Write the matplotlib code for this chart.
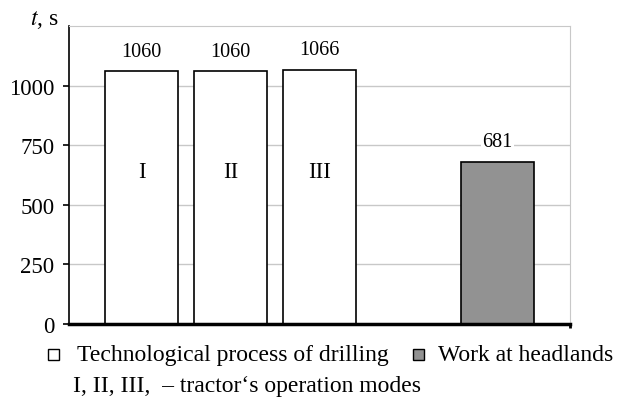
import matplotlib.pyplot as plt
from matplotlib.patches import Rectangle

plt.rcParams["font.family"] = ["Liberation Serif", "DejaVu Serif"]

positions = [0, 1, 2, 4]
values = [1060, 1060, 1066, 681]
colors = ["white", "white", "white", "#929292"]
modes = ["I", "II", "III"]
yticks = [0, 250, 500, 750, 1000]


def main() -> None:
    fig = plt.figure(figsize=(6.18, 4.06), dpi=100)
    ax = fig.add_axes([0.1117, 0.1995, 0.8106, 0.734])

    ax.bar(positions, values, width=0.82, color=colors, edgecolor="black",
           linewidth=1.2, zorder=3)
    for x, v in zip(positions, values):
        ax.text(x, v + 85, str(v), ha="center", va="center", fontsize=14.5,
                zorder=4, bbox=dict(facecolor="white", edgecolor="none", pad=1))
    for x, m in zip(positions, modes):
        ax.text(x, 640, m, ha="center", va="center", fontsize=16.5, zorder=4)

    ax.set_xlim(-0.815, 4.815)
    ax.set_ylim(0, 1250)
    ax.set_yticks(yticks)
    ax.set_xticks([4.815])
    ax.set_xticklabels([])
    ax.tick_params(axis="y", labelsize=16.5, length=4.5, width=1.2, pad=6)
    ax.tick_params(axis="x", length=3, width=2)
    ax.grid(axis="y", color="#c8c8c8", linewidth=1, zorder=0)

    ax.spines["left"].set_linewidth(1.2)
    ax.spines["bottom"].set_linewidth(2.5)
    ax.spines["bottom"].set_zorder(5)
    ax.spines["top"].set_color("#c8c8c8")
    ax.spines["right"].set_color("#c8c8c8")

    fig.text(30 / 618, 1 - 20 / 406, "$t$, s", ha="left", va="center",
             fontsize=17, math_fontfamily="stix")

    # legend drawn as text + squares, like the original
    fig.patches.append(Rectangle((48 / 618, 1 - 361 / 406), 11 / 618, 11 / 406,
                                 transform=fig.transFigure, facecolor="white",
                                 edgecolor="black", linewidth=1))
    fig.text(77 / 618, 1 - 356 / 406, "Technological process of drilling",
             fontsize=17, va="center")
    fig.patches.append(Rectangle((413 / 618, 1 - 361 / 406), 11 / 618, 11 / 406,
                                 transform=fig.transFigure, facecolor="#929292",
                                 edgecolor="black", linewidth=1))
    fig.text(438 / 618, 1 - 356 / 406, "Work at headlands", fontsize=17,
             va="center")
    fig.text(73 / 618, 1 - 387 / 406,
             "I, II, III,  \u2013 tractor\u2018s operation modes",
             fontsize=17, va="center")

    fig.savefig("out.png", dpi=100)
    plt.close(fig)


if __name__ == "__main__":
    main()
